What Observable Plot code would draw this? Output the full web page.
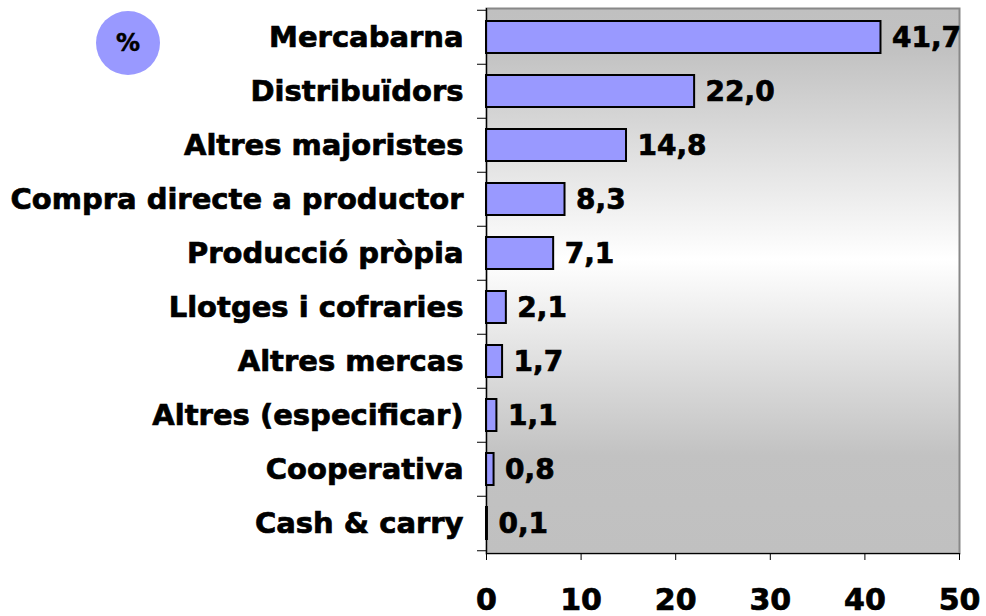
<!DOCTYPE html>
<html><head><meta charset="utf-8">
<script src="https://cdn.jsdelivr.net/npm/d3@7"></script>
<script src="https://cdn.jsdelivr.net/npm/@observablehq/plot@0.6"></script>
<style>
body{margin:0;background:#fff;}
#wrap{position:relative;width:986px;height:616px;}
#wrap svg{display:block;}
#wrap svg text{stroke:#000;stroke-width:0.7px;}
#pct{position:absolute;left:96px;top:11px;width:64px;height:64px;border-radius:50%;background:#9999ff;font:bold 24px "DejaVu Sans",Verdana,sans-serif;color:#000;-webkit-text-stroke:0.5px #000;display:flex;align-items:center;justify-content:center;}
</style>
</head><body><div id="wrap"><div id="pct">%</div></div>
<script>
const categories = ["Mercabarna","Distribuïdors","Altres majoristes","Compra directe a productor","Producció pròpia","Llotges i cofraries","Altres mercas","Altres (especificar)","Cooperativa","Cash & carry"];
const values = [41.7, 22.0, 14.8, 8.3, 7.1, 2.1, 1.7, 1.1, 0.8, 0.1];
const xTicks = [0, 10, 20, 30, 40, 50];

const data = categories.map((c, i) => ({cat: c, value: values[i]}));
const fmt = v => d3.format(".1f")(v).replace(".", ",");
const W = 986, H = 616, mt = 8, mb = 63, ml = 486, mr = 27;
const step = (H - mt - mb) / categories.length;
const font = "'DejaVu Sans', Verdana, sans-serif";

const defs = () => {
  const g = d3.create("svg:defs");
  const lg = g.append("linearGradient").attr("id", "bg")
    .attr("x1", 0).attr("x2", 0).attr("y1", 0).attr("y2", 1);
  [[0, "#c0c0c0"], [0.08, "#c2c2c2"], [0.46, "#ffffff"], [0.82, "#c2c2c2"], [1, "#c0c0c0"]]
    .forEach(([o, c]) => lg.append("stop").attr("offset", o).attr("stop-color", c));
  return g.node();
};

const chart = Plot.plot({
  width: W, height: H,
  marginTop: mt, marginBottom: mb, marginLeft: ml, marginRight: mr,
  style: {fontFamily: font, fontWeight: "bold", color: "black", background: "transparent", overflow: "visible"},
  x: {domain: [0, 50], ticks: xTicks},
  y: {domain: categories, paddingInner: 0.4, paddingOuter: 0.2},
  marks: [
    defs,
    Plot.frame({fill: "url(#bg)", stroke: "#888", strokeWidth: 2}),
    Plot.barX(data, {y: "cat", x: "value", fill: "#9999ff", stroke: "black", strokeWidth: 2}),
    Plot.text(data, {y: "cat", x: "value", text: d => fmt(d.value), textAnchor: "start", dx: 11, dy: 1, fontSize: 28, fontWeight: "bold", fill: "black"}),
    Plot.axisX({ticks: xTicks, tickSize: 7, tickPadding: 28, fontSize: 30, fontWeight: "bold", label: null, tickFormat: d => String(d)}),
    Plot.axisY({tickSize: 0, tickPadding: 23, fontSize: 29, fontWeight: "bold", label: null}),
    Plot.axisY({ticks: categories, tickSize: 9, tickFormat: () => "", dy: -step / 2, label: null}),
    Plot.axisY({ticks: [categories[categories.length - 1]], tickSize: 9, tickFormat: () => "", dy: step / 2, label: null}),
    Plot.ruleX([0], {stroke: "black", strokeWidth: 1.2}),
    Plot.frame({anchor: "bottom", stroke: "black", strokeWidth: 1.2})
  ]
});
document.getElementById("wrap").appendChild(chart);
</script>
</body></html>
